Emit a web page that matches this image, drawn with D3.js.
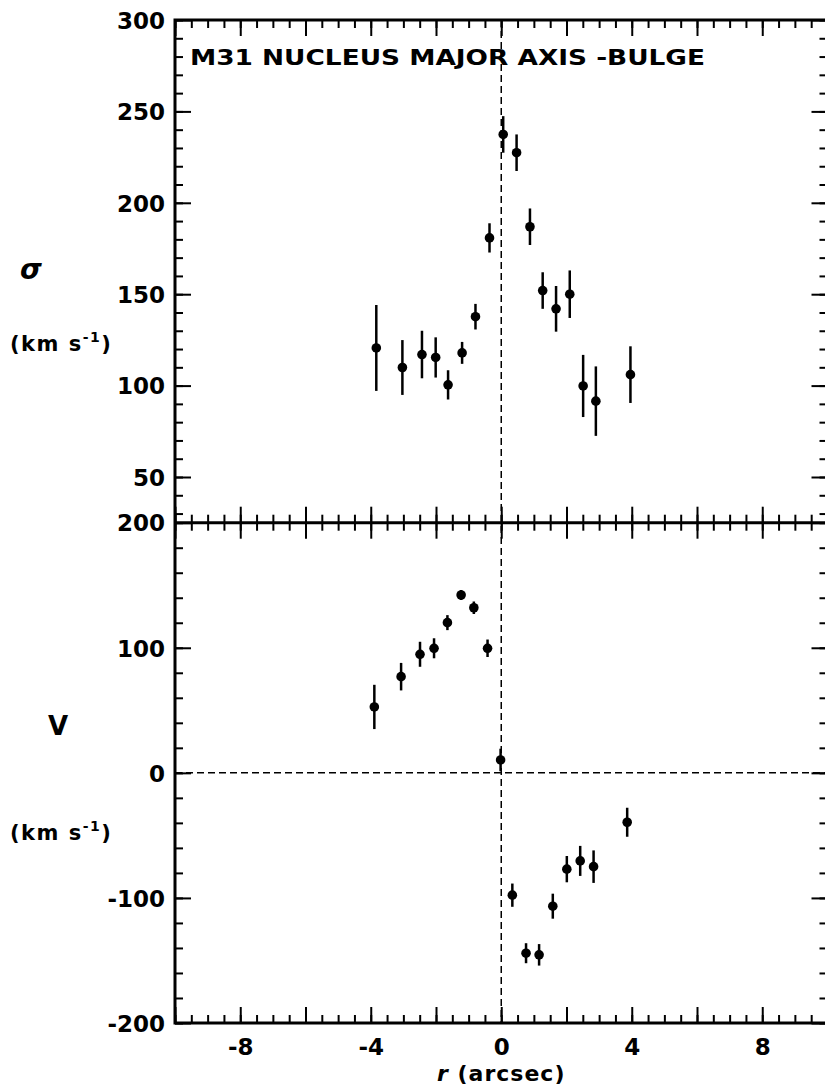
<!DOCTYPE html>
<head>
	<meta charset="UTF-8">
	<script src="https://d3js.org/d3.v7.min.js"></script>
	<style>
		body { margin: 0; background: #fff; }
		text { font-family: "DejaVu Sans", sans-serif; font-weight: bold; fill: #000; }
	</style>
</head>
<body>
<div id="chart"></div>
<script>

// sigma (velocity dispersion) profile, top panel
const sigR   = [-3.83, -3.03, -2.43, -2.01, -1.63, -1.20, -0.79, -0.36, 0.06, 0.47, 0.88, 1.27, 1.68, 2.10, 2.51, 2.90, 3.96];
const sigVal = [120.6, 109.9, 117.0, 115.4, 100.4, 117.9, 137.7, 180.8, 237.4, 227.4, 186.9, 152.0, 142.0, 150.0, 99.8, 91.5, 106.0];
const sigErr = [23.5, 15, 13, 11, 8, 6, 7, 8, 10, 10, 10, 10, 12.5, 13, 17, 19, 15.5];

// rotation velocity profile, bottom panel
const vR   = [-3.89, -3.07, -2.49, -2.06, -1.65, -1.23, -0.84, -0.42, -0.02, 0.34, 0.76, 1.16, 1.58, 2.01, 2.42, 2.83, 3.86];
const vVal = [52.7, 76.9, 94.8, 99.6, 120.1, 142.2, 132.0, 99.6, 10.3, -97.8, -144.2, -145.5, -106.6, -77.0, -70.4, -75.0, -39.5];
const vErr = [17.7, 11, 10, 8, 6, 4, 5, 7, 9, 9.3, 8, 8.6, 10, 10.5, 12, 13, 11.6];

const xTicks    = [-8, -4, 0, 4, 8];
const sigTicks  = [50, 100, 150, 200, 250, 300];
const vTicks    = [-200, -100, 0, 100, 200];

const width = 825, height = 1087;
const left = 175, right = 827.5;
const topY = 20, midY = 522.7, botY = 1023;

const x = d3.scaleLinear([-10, 10], [left, right]);
const ySig = d3.scaleLinear([25, 300], [midY, topY]);
const yV = d3.scaleLinear([-200, 200], [botY, midY]);

const svg = d3.select("#chart").append("svg")
	.attr("width", width)
	.attr("height", height);

svg.append("rect").attr("width", width).attr("height", height).attr("fill", "#fff");

const fmt = d => d < 0 ? "-" + Math.abs(d) : String(d);

// draw a major + minor tick axis, ticks pointing inward
function ticks(axisFn, scale, major, minor, transform, labels) {
	const gMinor = svg.append("g").attr("transform", transform)
		.call(axisFn(scale).tickValues(minor).tickSize(-8).tickFormat(""));
	const gMajor = svg.append("g").attr("transform", transform)
		.call(axisFn(scale).tickValues(major).tickSize(-16).tickPadding(10)
			.tickFormat(labels ? fmt : ""));
	[gMinor, gMajor].forEach(g => {
		g.select(".domain").remove();
		g.selectAll("line").attr("stroke", "#000").attr("stroke-width", 2);
	});
	gMajor.selectAll("text").attr("font-size", 23).attr("font-family", "DejaVu Sans").attr("font-weight", "bold");
	return gMajor;
}

const xMajor = d3.range(-10, 10.01, 2);
const xMinor = d3.range(-10, 10.01, 0.5);

// x ticks on top, middle (both sides) and bottom
ticks(d3.axisTop, x, xMajor, xMinor, `translate(0,${topY})`, false);
ticks(d3.axisBottom, x, xMajor, xMinor, `translate(0,${midY})`, false);
ticks(d3.axisTop, x, xMajor, xMinor, `translate(0,${midY})`, false);
const gx = ticks(d3.axisBottom, x, xMajor, xMinor, `translate(0,${botY})`, false);
gx.selectAll(".tick").filter(d => xTicks.includes(d)).append("text")
	.attr("y", 32).attr("text-anchor", "middle")
	.attr("font-size", 23).text(fmt);

// y ticks, sigma panel
const sigMinor = d3.range(30, 300.1, 10);
ticks(d3.axisLeft, ySig, sigTicks, sigMinor, `translate(${left},0)`, true)
	.selectAll("text").attr("dy", "0.36em");
ticks(d3.axisRight, ySig, sigTicks, sigMinor, `translate(${right},0)`, false);

// y ticks, V panel
const vMinor = d3.range(-200, 200.1, 20);
ticks(d3.axisLeft, yV, vTicks, vMinor, `translate(${left},0)`, true)
	.selectAll("text").attr("dy", "0.36em");
ticks(d3.axisRight, yV, vTicks, vMinor, `translate(${right},0)`, false);

// frames
svg.append("rect").attr("x", left).attr("y", topY).attr("width", right - left).attr("height", botY - topY)
	.attr("fill", "none").attr("stroke", "#000").attr("stroke-width", 3);
svg.append("line").attr("x1", left).attr("x2", right).attr("y1", midY).attr("y2", midY)
	.attr("stroke", "#000").attr("stroke-width", 3);

// dashed reference lines
svg.append("line").attr("x1", x(0)).attr("x2", x(0)).attr("y1", topY).attr("y2", botY)
	.attr("stroke", "#000").attr("stroke-width", 1.5).attr("stroke-dasharray", "7,4");
svg.append("line").attr("x1", left).attr("x2", right).attr("y1", yV(0)).attr("y2", yV(0))
	.attr("stroke", "#000").attr("stroke-width", 1.5).attr("stroke-dasharray", "7,4");

// points with error bars
function points(rs, vals, errs, y) {
	const g = svg.append("g");
	g.selectAll("line").data(rs).join("line")
		.attr("x1", d => x(d)).attr("x2", d => x(d))
		.attr("y1", (d, i) => y(vals[i] + errs[i]))
		.attr("y2", (d, i) => y(vals[i] - errs[i]))
		.attr("stroke", "#000").attr("stroke-width", 2.5);
	g.selectAll("circle").data(rs).join("circle")
		.attr("cx", d => x(d)).attr("cy", (d, i) => y(vals[i]))
		.attr("r", 4.8).attr("fill", "#000");
}
points(sigR, sigVal, sigErr, ySig);
points(vR, vVal, vErr, yV);

// title and axis labels
svg.append("text").attr("x", 190).attr("y", 65).attr("font-size", 21)
	.attr("textLength", 515).attr("lengthAdjust", "spacingAndGlyphs")
	.text("M31 NUCLEUS MAJOR AXIS -BULGE");

svg.append("text").attr("x", 20).attr("y", 279).attr("font-size", 28)
	.attr("font-style", "italic").text("σ");
svg.append("text").attr("x", 48).attr("y", 735).attr("font-size", 26).text("V");

function unitLabel(y0) {
	const t = svg.append("text").attr("x", 10).attr("y", y0).attr("font-size", 21)
		.attr("letter-spacing", 1.5);
	t.append("tspan").text("(km s");
	t.append("tspan").attr("dy", -9).attr("font-size", 14).text("-1");
	t.append("tspan").attr("dy", 9).text(")");
}
unitLabel(351);
unitLabel(840);

const xl = svg.append("text").attr("x", x(0)).attr("y", 1081).attr("text-anchor", "middle")
	.attr("font-size", 22).attr("letter-spacing", 1);
xl.append("tspan").attr("font-style", "italic").text("r");
xl.append("tspan").text("  (arcsec)");

</script>
</body>
</html>
